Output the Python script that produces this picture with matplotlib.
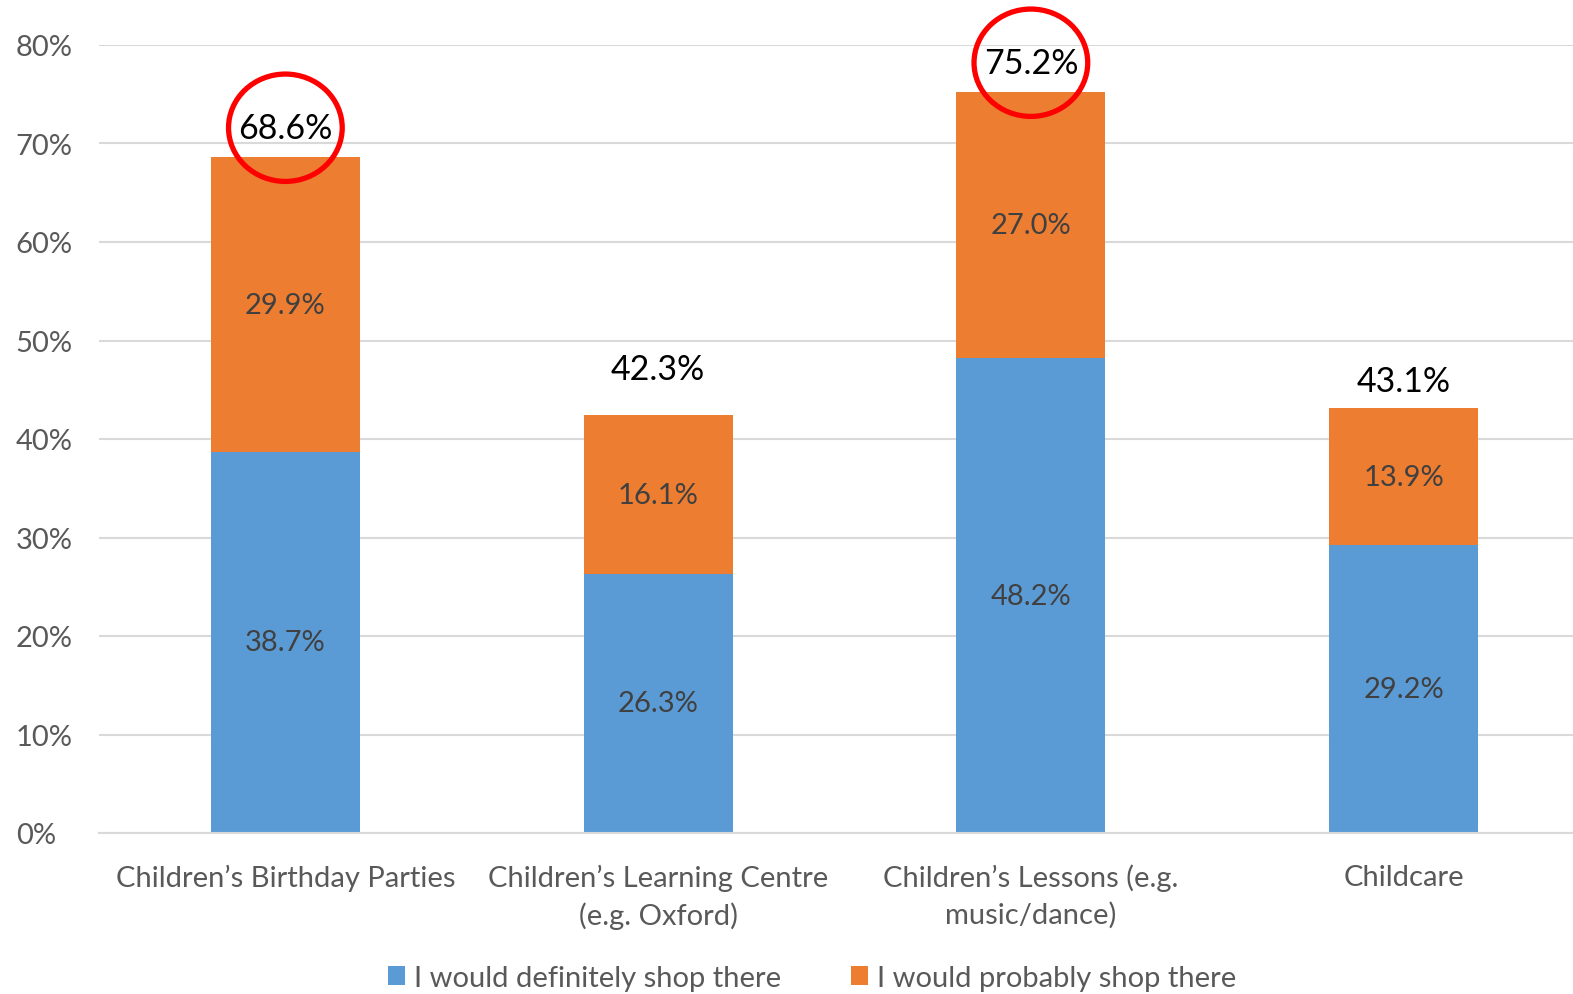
import numpy as np
import matplotlib.pyplot as plt
from matplotlib.patches import Ellipse

categories = ["Children’s Birthday Parties",
              "Children’s Learning Centre\n(e.g. Oxford)",
              "Children’s Lessons (e.g.\nmusic/dance)",
              "Childcare"]
definitely = [38.7, 26.3, 48.2, 29.2]
probably = [29.9, 16.1, 27.0, 13.9]
totals = [68.6, 42.3, 75.2, 43.1]
circled = [True, False, True, False]
series_names = ["I would definitely shop there", "I would probably shop there"]

blue = "#5B9BD5"
orange = "#ED7D31"
grey_txt = "#595959"

plt.rcParams['font.family'] = ['Lato', 'DejaVu Sans']

fig = plt.figure(figsize=(15.73, 9.95), dpi=100)
ax = fig.add_axes([99 / 1573, 161 / 995, 1491 / 1573, 788 / 995])

x = np.arange(len(categories))
d = np.array(definitely) / 100
p = np.array(probably) / 100
ax.bar(x, d, width=0.4, color=blue, label=series_names[0], zorder=2)
ax.bar(x, p, width=0.4, bottom=d, color=orange, label=series_names[1], zorder=2)

for i in range(len(x)):
    ax.text(x[i], d[i] / 2, f"{definitely[i]:.1f}%", ha="center", va="center",
            fontsize=21, color="#404040", zorder=3)
    ax.text(x[i], d[i] + p[i] / 2, f"{probably[i]:.1f}%", ha="center", va="center",
            fontsize=21, color="#404040", zorder=3)

# total labels above bars (manual offsets like the original)
offsets = [0.030, 0.048, 0.030, 0.028]
for i in range(len(x)):
    ty = totals[i] / 100 + offsets[i]
    ax.text(x[i], ty, f"{totals[i]:.1f}%", ha="center", va="center",
            fontsize=24.5, color="black", zorder=4)
    if circled[i]:
        ax.add_patch(Ellipse((x[i], ty), 0.305, 0.109, fill=False,
                             edgecolor="#FF0000", linewidth=3.8, zorder=5,
                             clip_on=False))

ax.set_xlim(-0.5, 3.5)
ax.set_ylim(0, 0.8)
ax.set_yticks(np.arange(0, 0.81, 0.1))
ax.set_yticklabels([f"{int(v)}%" for v in np.arange(0, 81, 10)])
ax.set_xticks(x)
ax.set_xticklabels(categories, linespacing=1.45)
ax.tick_params(axis="both", length=0, labelsize=21, colors=grey_txt)
ax.tick_params(axis="x", pad=22)
ax.tick_params(axis="y", pad=60)
for lab in ax.get_yticklabels():
    lab.set_horizontalalignment("left")
ax.yaxis.grid(True, color="#D9D9D9", linewidth=1.5, zorder=0)
ax.set_axisbelow(True)
for s in ["top", "right", "left"]:
    ax.spines[s].set_visible(False)
ax.spines["bottom"].set_color("#D9D9D9")
ax.spines["bottom"].set_linewidth(1.5)

fig.legend(loc="center", bbox_to_anchor=(812 / 1573, 16 / 995), ncol=2,
           frameon=False, fontsize=21, handlelength=0.6, handleheight=0.6,
           handletextpad=0.3, columnspacing=2.4, labelcolor=grey_txt)

fig.savefig("out.png", dpi=100)
